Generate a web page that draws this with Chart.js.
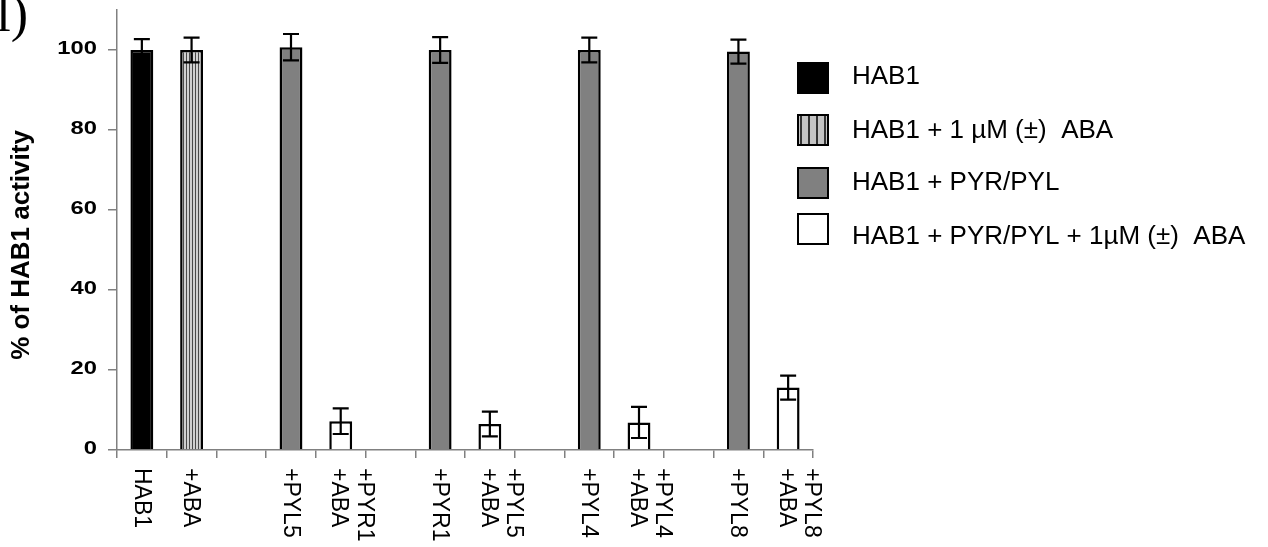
<!DOCTYPE html>
<html>
<head>
<meta charset="utf-8">
<script src="https://cdn.jsdelivr.net/npm/chart.js@4.4.1/dist/chart.umd.min.js"></script>
<style>
  html, body { margin: 0; padding: 0; background: #fff; }
  canvas { display: block; }
</style>
</head>
<body>
<canvas id="chart" width="1268" height="547"></canvas>
<script>
// category labels (two-line ones sit side by side under the rotated axis)
const tickLabels = ["HAB1", "+ABA", "", "+PYL5", ["+ABA", "+PYR1"], "", "+PYR1", ["+ABA", "+PYL5"], "", "+PYL4", ["+ABA", "+PYL4"], "", "+PYL8", ["+ABA", "+PYL8"]];
const seriesNames = ["HAB1", "HAB1 + 1 \u00b5M (\u00b1)  ABA", "HAB1 + PYR/PYL", "HAB1 + PYR/PYL + 1\u00b5M (\u00b1)  ABA"];

// % of HAB1 activity
const hab1 = [100, null, null, null, null, null, null, null, null, null, null, null, null, null];
const hab1Aba = [null, 100, null, null, null, null, null, null, null, null, null, null, null, null];
const pyrPyl = [null, null, null, 100.7, null, null, 100, null, null, 100, null, null, 99.6, null];
const pyrPylAba = [null, null, null, null, 7.2, null, null, 6.5, null, null, 6.9, null, null, 15.6];

// error bars (+/-)
const hab1Err = [2.7, null, null, null, null, null, null, null, null, null, null, null, null, null];
const hab1AbaErr = [null, 3.1, null, null, null, null, null, null, null, null, null, null, null, null];
const pyrPylErr = [null, null, null, 3.3, null, null, 3.2, null, null, 3.1, null, null, 3.0, null];
const pyrPylAbaErr = [null, null, null, null, 3.2, null, null, 3.1, null, null, 3.9, null, null, 3.0];

const yTicks = [0, 20, 40, 60, 80, 100];

const FONT = "'Liberation Sans', Arial, sans-serif";

function stripes(period, dark, light, darkW) {
  const c = document.createElement("canvas");
  c.width = period;
  c.height = 4;
  const g = c.getContext("2d");
  g.fillStyle = light;
  g.fillRect(0, 0, period, 4);
  g.fillStyle = dark;
  g.fillRect(0, 0, darkW, 4);
  return g.createPattern(c, "repeat");
}

const ctx = document.getElementById("chart").getContext("2d");
const barStripes = stripes(3, "#4a4a4a", "#d0d0d0", 1);
const legendStripes = stripes(8, "#333333", "#c4c4c4", 2);

const fills = ["#000000", barStripes, "#808080", "#ffffff"];
const legendFills = ["#000000", legendStripes, "#808080", "#ffffff"];
const errors = [hab1Err, hab1AbaErr, pyrPylErr, pyrPylAbaErr];

function makeSet(i, data) {
  return {
    label: seriesNames[i],
    data: data,
    backgroundColor: fills[i],
    borderColor: "#000",
    borderWidth: 2.5,
    grouped: false,
    barPercentage: 0.46,
    categoryPercentage: 1,
  };
}

// error bars, axis labels, title and legend
const extras = {
  id: "extras",
  afterDatasetsDraw(chart) {
    const c = chart.ctx;
    const y = chart.scales.y;
    c.save();
    c.strokeStyle = "#000";
    c.lineWidth = 2.2;
    chart.data.datasets.forEach((ds, i) => {
      const meta = chart.getDatasetMeta(i);
      meta.data.forEach((bar, j) => {
        const v = ds.data[j];
        const e = errors[i][j];
        if (v == null || e == null) return;
        const top = y.getPixelForValue(v + e);
        const bot = y.getPixelForValue(v - e);
        c.beginPath();
        c.moveTo(bar.x, top);
        c.lineTo(bar.x, bot);
        c.moveTo(bar.x - 8, top);
        c.lineTo(bar.x + 8, top);
        c.moveTo(bar.x - 8, bot);
        c.lineTo(bar.x + 8, bot);
        c.stroke();
      });
    });
    c.restore();
  },
  afterDraw(chart) {
    const c = chart.ctx;
    const x = chart.scales.x;
    const y = chart.scales.y;
    c.save();
    c.fillStyle = "#000";

    // y tick labels (wide bold digits)
    c.font = "bold 19px " + FONT;
    c.textAlign = "right";
    c.textBaseline = "middle";
    yTicks.forEach((t) => {
      c.save();
      c.translate(97, y.getPixelForValue(t) - 1);
      c.scale(1.25, 1);
      c.fillText(String(t), 0, 0);
      c.restore();
    });

    // y title
    c.save();
    c.translate(22, 245);
    c.rotate(-Math.PI / 2);
    c.font = "bold 26px " + FONT;
    c.textAlign = "center";
    c.textBaseline = "middle";
    c.fillText("% of HAB1 activity", 0, 0);
    c.restore();

    // x labels, rotated clockwise
    c.font = "23px " + FONT;
    c.textAlign = "left";
    c.textBaseline = "middle";
    tickLabels.forEach((lab, i) => {
      const lines = Array.isArray(lab) ? lab : [lab];
      const cx = x.getPixelForTick(i);
      lines.forEach((txt, k) => {
        if (!txt) return;
        const off = lines.length > 1 ? -2 + k * 25.5 : -1;
        c.save();
        c.translate(cx + off, 468);
        c.rotate(Math.PI / 2);
        c.fillText(txt, 0, 0);
        c.restore();
      });
    });

    // legend
    const boxTops = [62, 114, 167, 213];
    const textMid = [77, 131, 183, 237];
    c.font = "26px " + FONT;
    c.textAlign = "left";
    c.textBaseline = "middle";
    chart.data.datasets.forEach((ds, i) => {
      c.fillStyle = legendFills[i];
      c.fillRect(797, boxTops[i], 32, 32);
      c.strokeStyle = "#000";
      c.lineWidth = 2;
      c.strokeRect(798, boxTops[i] + 1, 30, 30);
      c.fillStyle = "#000";
      c.fillText(ds.label, 852, textMid[i]);
    });

    // panel letter, cut at the edge
    c.font = "52px 'Liberation Serif', 'Times New Roman', serif";
    c.textAlign = "right";
    c.textBaseline = "alphabetic";
    c.fillText("(l)", 28, 31);
    c.restore();
  },
};

const chart = new Chart(ctx, {
  type: "bar",
  data: {
    labels: tickLabels,
    datasets: [makeSet(0, hab1), makeSet(1, hab1Aba), makeSet(2, pyrPyl), makeSet(3, pyrPylAba)],
  },
  options: {
    responsive: false,
    animation: false,
    layout: { padding: { top: 10, right: 455, left: 0, bottom: 0 } },
    plugins: { legend: { display: false }, tooltip: { enabled: false } },
    scales: {
      x: {
        offset: true,
        grid: { offset: true, drawOnChartArea: false, tickLength: 8, color: "#808080", lineWidth: 1.5 },
        border: { display: true, color: "#808080", width: 1.5 },
        ticks: { display: false },
        afterFit: (s) => { s.height = 97; },
      },
      y: {
        min: 0,
        max: 110,
        ticks: { display: false, stepSize: 20, includeBounds: false },
        grid: { drawOnChartArea: false, tickLength: 9, color: "#808080", lineWidth: 1.5 },
        border: { display: true, color: "#808080", width: 1.5 },
        afterFit: (s) => { s.width = 117; },
      },
    },
  },
  plugins: [extras],
});
</script>
</body>
</html>
